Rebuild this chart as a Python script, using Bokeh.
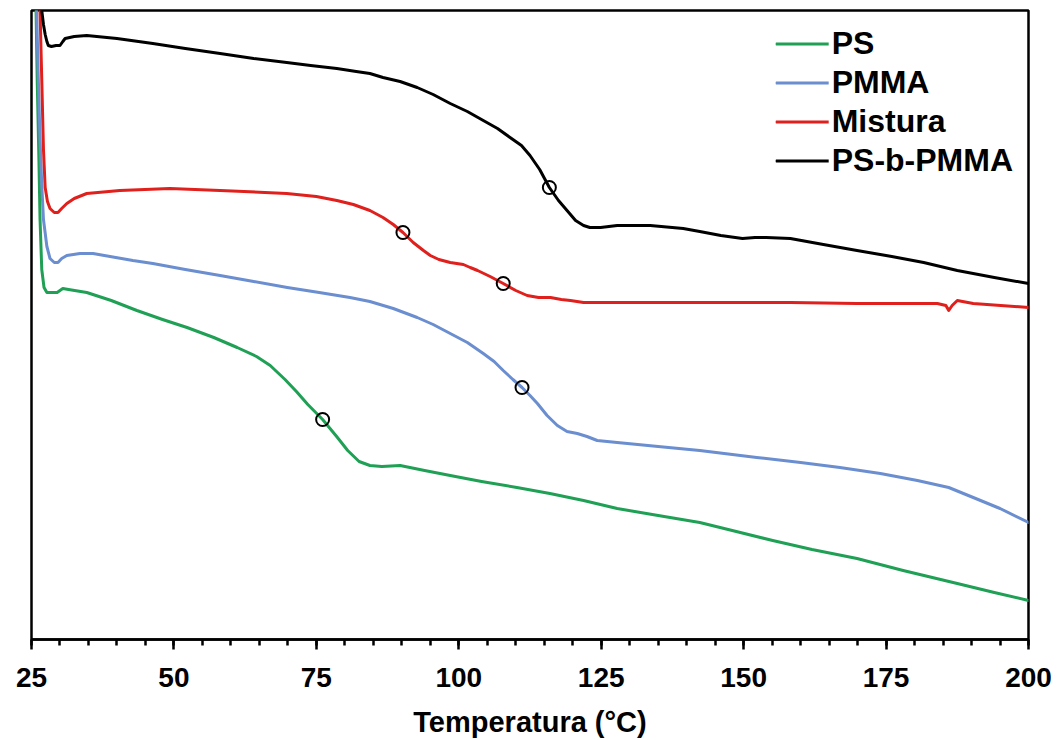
from bokeh.plotting import figure
from bokeh.models import Range1d, SingleIntervalTicker, Legend, LegendItem
from bokeh.embed import file_html
from bokeh.resources import INLINE

# ---- data (temperature in °C, heat-flow signal in arbitrary units) ----
ps_t = [25.6, 25.8, 26.0, 26.3, 26.5, 26.8, 27.2, 27.7, 29.5, 30.0, 30.5, 31.5, 34.7, 39.0,
        43.5, 48.0, 52.3, 57.0, 61.1, 64.5, 66.9, 69.5, 71.5, 73.5, 76.1, 78.7, 80.5, 82.5,
        84.4, 86.5, 89.7, 94.0, 98.5, 104.0, 110.2, 116.0, 121.9, 127.8, 135.0, 142.3, 148.0,
        155.1, 162.0, 169.9, 178.0, 187.5, 194.0, 200.0]
ps_y = [680, 629, 560, 480, 420, 370, 352, 347, 347, 349, 351, 350, 347, 339,
        329, 320, 312, 302, 292, 283, 274, 260, 248, 235, 220, 202, 189, 178,
        174, 173, 174, 169, 164, 158, 152, 146, 139, 131, 124, 117, 109,
        99, 90, 81, 69, 56, 47, 39]

pmma_t = [25.6, 25.9, 26.2, 26.5, 26.8, 27.1, 27.7, 28.25, 29.0, 29.65, 30.3, 31.2, 33.5, 35.8,
          42.8, 46.3, 52.0, 58.1, 64.0, 69.9, 75.5, 80.9, 84.4, 88.5, 92.7, 95.5, 98.5, 101.5,
          104.3, 106.2, 107.8, 109.5, 111.1, 112.5, 113.8, 115.5, 117.3, 119.0, 120.8, 122.5,
          124.3, 127.8, 135.0, 142.3, 152.3, 160.0, 166.9, 174.0, 180.5, 186.0, 190.3, 195.0,
          200.0]
pmma_y = [680, 629, 560, 500, 455, 420, 393, 381, 377, 377, 381, 384, 386, 386,
          379, 376, 370, 364, 358, 352, 347, 342, 338, 331, 322, 315, 306, 297,
          286, 278, 269, 260, 252, 244, 236, 224, 214, 208, 206, 203,
          199, 197, 193, 189, 182, 177, 172, 166, 159, 152, 142, 131,
          117]

mist_t = [26.3, 26.5, 26.8, 27.1, 27.4, 27.8, 28.25, 29.0, 29.65, 30.3, 31.2, 32.5, 34.7, 40.5,
          49.3, 58.1, 69.8, 75.0, 78.6, 81.5, 84.4, 86.7, 88.5, 90.2, 92.0, 93.8, 95.0, 96.5,
          98.5, 100.8, 102.0, 103.3, 105.5, 107.8, 110.0, 112.0, 114.0, 116.1, 118.0, 119.6,
          121.9, 127.8, 142.3, 158.2, 169.9, 184.0, 185.5, 186.0, 186.6, 187.5, 190.3, 200.0]
mist_y = [680, 629, 560, 490, 452, 438, 431, 427, 427, 431, 436, 441, 446, 449,
          451, 449, 446, 443, 439, 435, 429, 422, 415, 407, 397, 389, 384, 380,
          377, 375, 372, 369, 363, 356, 349, 344, 342, 342, 340, 339,
          337, 337, 337, 337, 336, 336, 334, 329, 334, 339, 336, 332]

bcp_t = [26.5, 26.8, 27.1, 27.4, 27.7, 27.95, 28.5, 29.3, 30.0, 30.5, 30.9, 32.5, 34.7, 40.0,
         46.3, 52.0, 58.1, 64.0, 69.8, 74.0, 78.6, 82.0, 84.4, 86.7, 89.7, 92.7, 95.5, 98.5,
         101.5, 104.3, 106.8, 109.0, 111.0, 112.5, 114.2, 115.9, 117.5, 119.0, 120.5, 121.9,
         123.0, 124.9, 127.8, 133.6, 139.4, 142.3, 146.0, 149.8, 152.0, 154.0, 158.2, 164.0,
         169.9, 176.0, 181.6, 187.5, 194.0, 200.0]
bcp_y = [680, 629, 615, 605, 598, 594, 593, 594, 594, 598, 601, 603, 604, 601,
         596, 591, 586, 581, 577, 574, 571, 568, 566, 562, 558, 552, 545, 536,
         528, 519, 511, 502, 494, 484, 470, 452, 439, 429, 419, 414,
         412, 412, 414, 414, 411, 408, 404, 401, 402, 402, 401, 395,
         389, 383, 377, 369, 362, 356]

# glass-transition markers
tg_t = [76.1, 111.1, 90.2, 107.8, 115.9]
tg_y = [220, 252, 407, 356, 452]

x_ticks_interval = 25
series_names = ["PS", "PMMA", "Mistura", "PS-b-PMMA"]
colors = ["#1FA055", "#6A8ECF", "#E0201C", "#000000"]

FONT = "Liberation Sans"

p = figure(width=1062, height=740, output_backend="svg", toolbar_location=None,
           x_range=Range1d(25, 200), y_range=Range1d(0, 629),
           min_border_left=31, min_border_right=34, min_border_top=10, min_border_bottom=101)

p.background_fill_color = "white"
p.border_fill_color = "white"
p.outline_line_color = "black"
p.outline_line_width = 2.5
p.xgrid.visible = False
p.ygrid.visible = False
p.yaxis.visible = False

ax = p.xaxis[0]
ax.ticker = SingleIntervalTicker(interval=x_ticks_interval, num_minor_ticks=5)
ax.axis_line_color = "black"
ax.axis_line_width = 2.5
ax.major_tick_line_width = 2.5
ax.minor_tick_line_width = 2.5
ax.major_tick_in = 0
ax.major_tick_out = 10
ax.minor_tick_in = 0
ax.minor_tick_out = 6
ax.major_label_text_font = FONT
ax.major_label_text_font_size = "28px"
ax.major_label_text_font_style = "bold"
ax.major_label_text_color = "black"
ax.major_label_standoff = 18
ax.axis_label = "Temperatura (°C)"
ax.axis_label_text_font = FONT
ax.axis_label_text_font_size = "29px"
ax.axis_label_text_font_style = "bold"
ax.axis_label_text_color = "black"
ax.axis_label_standoff = 16

renderers = []
for xs, ys, c in [(ps_t, ps_y, colors[0]), (pmma_t, pmma_y, colors[1]),
                  (mist_t, mist_y, colors[2]), (bcp_t, bcp_y, colors[3])]:
    r = p.line(xs, ys, line_color=c, line_width=3, line_join="round", line_cap="round")
    renderers.append(r)

p.scatter(tg_t, tg_y, marker="circle", size=13, fill_color=None,
          line_color="black", line_width=2)

legend = Legend(items=[LegendItem(label=n, renderers=[r]) for n, r in zip(series_names, renderers)],
                location="top_right")
legend.border_line_color = None
legend.background_fill_alpha = 0
legend.label_text_font = FONT
legend.label_text_font_size = "32px"
legend.label_text_font_style = "bold"
legend.label_text_color = "black"
legend.glyph_width = 53
legend.glyph_height = 37
legend.label_standoff = 3
legend.spacing = 2
legend.padding = 6
legend.margin = 15
legend.label_height = 37
p.add_layout(legend)

open("out.html", "w").write(file_html(p, INLINE))
